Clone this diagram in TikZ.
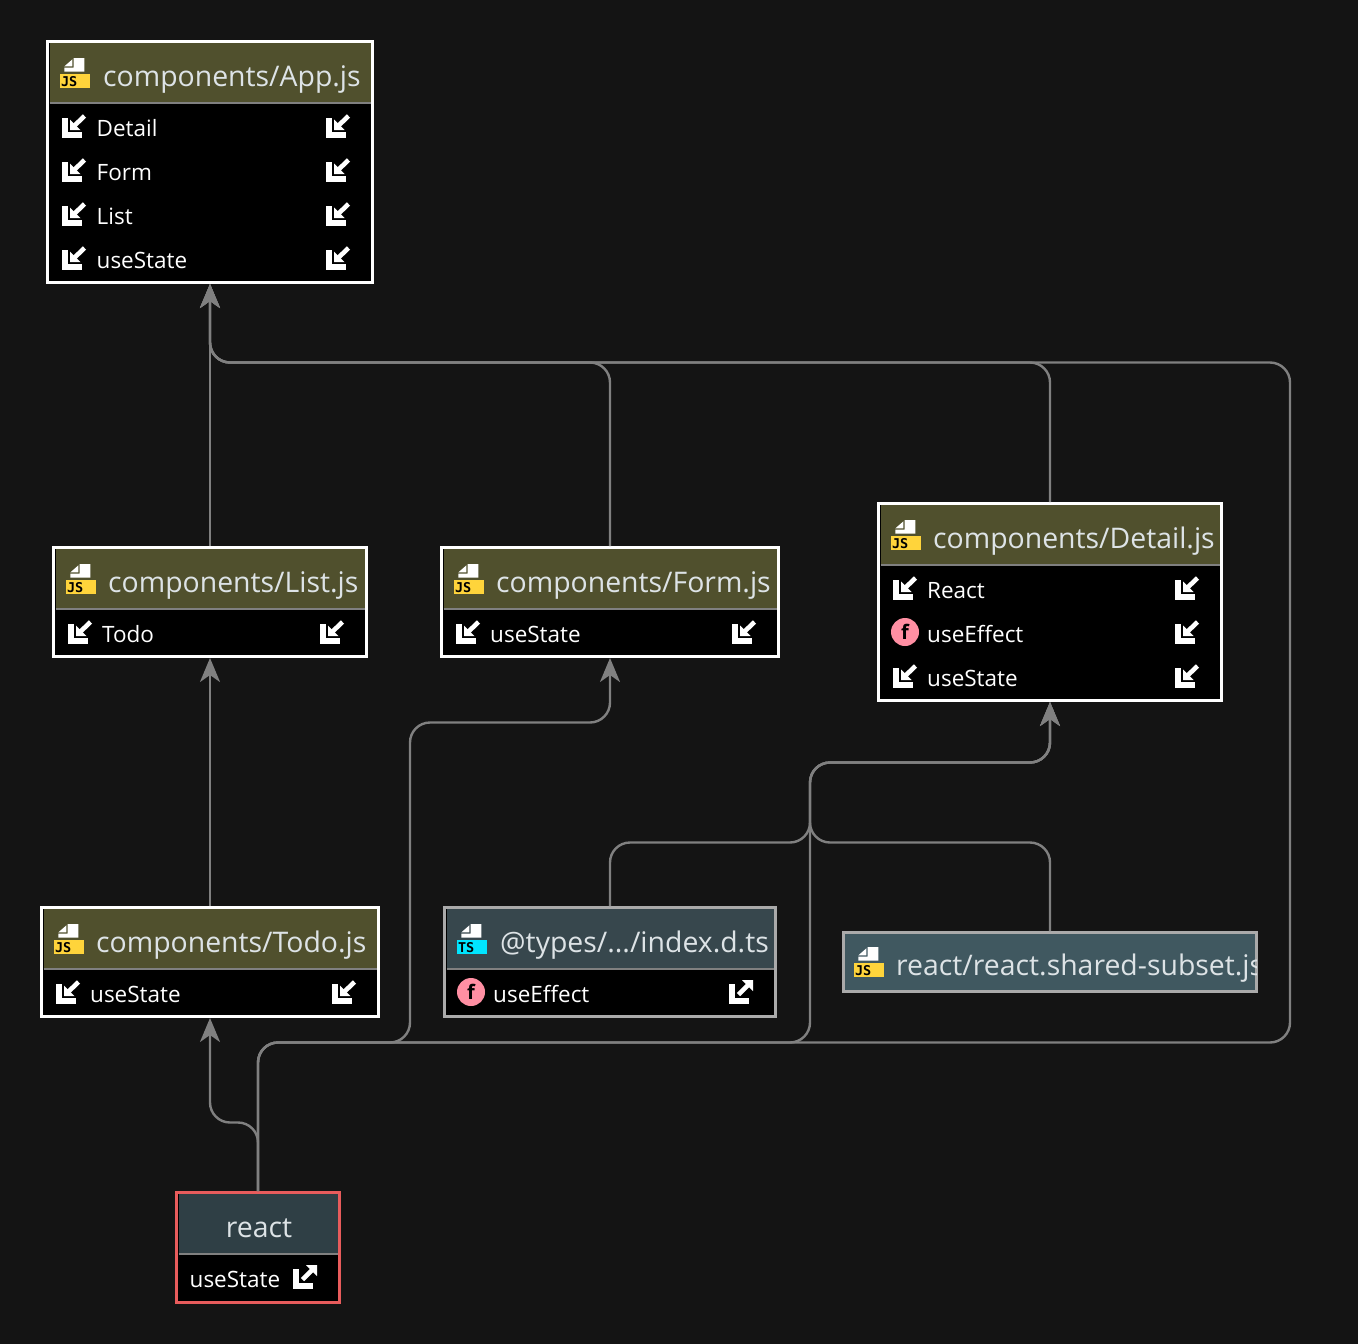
\documentclass[tikz,border=0pt]{standalone}
\usepackage{fontspec}
\usepackage{xcolor}
\usetikzlibrary{arrows.meta}
\setmainfont{Open Sans}
\newfontfamily\tagfont{DejaVu Sans Mono}
\definecolor{pagebg}{HTML}{141414}
\definecolor{jsolive}{HTML}{50502D}
\definecolor{typesteal}{HTML}{37474D}
\definecolor{sharedteal}{HTML}{405860}
\definecolor{reactteal}{HTML}{2F3F45}
\definecolor{edgegray}{HTML}{808080}
\definecolor{softborder}{HTML}{AAAAAA}
\definecolor{reactred}{HTML}{E85C5C}
\definecolor{jsyellow}{HTML}{FFD43B}
\definecolor{tscyan}{HTML}{00E5FF}
\definecolor{fnpink}{HTML}{FF8FA3}
\definecolor{titletext}{HTML}{DDE3E6}
\tikzset{
  modbox/.style={rectangle,fill=black,line width=3pt,inner sep=0pt,outer sep=auto},
  headbox/.style={rectangle,inner sep=0pt,outer sep=0pt,minimum height=60pt},
  headsep/.style={edgegray,line width=2.4pt},
  title/.style={anchor=base west,inner sep=0pt,text=titletext,font=\fontsize{28.4}{30}\selectfont},
  rowtext/.style={anchor=base west,inner sep=0pt,text=white,font=\fontsize{22.5}{26}\selectfont},
  fnmark/.style={circle,fill=fnpink,minimum size=28pt,inner sep=0pt,text=black,font=\fontsize{20}{20}\selectfont\bfseries},
  dep/.style={edgegray,line width=2.4pt,rounded corners=20pt,-{Stealth[length=24pt,width=20pt,inset=7pt]}}
}
% origin: lower left corner of the tag
\newcommand{\srcicon}[5]{
  \begin{scope}[shift={(#1,-#2)}]
    \fill [white] (13.6,30) -- (24.3,30) -- (24.3,16.3) -- (4.3,16.3) -- (4.3,20.3) -- (13.6,20.3) -- cycle;
    \fill [white] (12.3,28.6) -- (12.3,21.6) -- (4.3,21.6) -- cycle;
    \fill [#5] (0,0) rectangle (30,14);
    \node [anchor=base,inner sep=0pt,text=black,font=\tagfont\fontsize{13.5}{14}\selectfont\bfseries] (#3) at (9.2,2) {#4};
  \end{scope}
}
% origin: lower left corner of the L
\newcommand{\importicon}[2]{
  \begin{scope}[shift={(#1,-#2)}]
    \fill [white] (0,0) rectangle (20,6);
    \fill [white] (0,0) rectangle (6,20);
    \fill [white] (8,8) -- (8,18.5) -- (18.5,8) -- cycle;
    \draw [white,line width=4.6pt] (11,11) -- (22.5,22);
  \end{scope}
}
\newcommand{\exporticon}[2]{
  \begin{scope}[shift={(#1,-#2)}]
    \fill [white] (0,0) rectangle (20,6);
    \fill [white] (0,0) rectangle (6,20);
    \fill [white] (24,24) -- (13,24) -- (24,13) -- cycle;
    \draw [white,line width=4.6pt] (21,21) -- (9.5,9.5);
  \end{scope}
}
\begin{document}
\begin{tikzpicture}[x=1pt,y=1pt]
\fill [pagebg] (0,0) rectangle (1358,-1344);
\useasboundingbox (0,0) rectangle (1358,-1344);

% App.js
\node [modbox,draw=white,minimum width=325pt,minimum height=241pt] (app) at (210,-162) {};
\node [headbox,fill=jsolive,minimum width=321pt] (appHead) at (210,-73) {};
\draw [headsep] (appHead.south west) -- (appHead.south east);
\srcicon{60}{88}{appTag}{JS}{jsyellow}
\node [title] (appTitle) at (103,-86) {components/App.js};
\foreach \i/\t/\y in {0/Detail/136,1/Form/180,2/List/224,3/useState/268}{
  \node [rowtext] (appRow\i) at (96.5,-\y) {\t};
}
\foreach \y in {138,182,226,270}{
  \importicon{62}{\y}
  \importicon{326}{\y}
}

% List.js
\node [modbox,draw=white,minimum width=313pt,minimum height=109pt] (list) at (210,-602) {};
\node [headbox,fill=jsolive,minimum width=309pt] (listHead) at (210,-579) {};
\draw [headsep] (listHead.south west) -- (listHead.south east);
\srcicon{66}{594}{listTag}{JS}{jsyellow}
\node [title] (listTitle) at (108,-592) {components/List.js};
\node [rowtext] (listRow) at (102,-642) {Todo};
\importicon{68}{644}
\importicon{320}{644}

% Form.js
\node [modbox,draw=white,minimum width=337pt,minimum height=109pt] (form) at (610,-602) {};
\node [headbox,fill=jsolive,minimum width=333pt] (formHead) at (610,-579) {};
\draw [headsep] (formHead.south west) -- (formHead.south east);
\srcicon{454}{594}{formTag}{JS}{jsyellow}
\node [title] (formTitle) at (496,-592) {components/Form.js};
\node [rowtext] (formRow) at (490,-642) {useState};
\importicon{456}{644}
\importicon{732}{644}

% Detail.js
\node [modbox,draw=white,minimum width=343pt,minimum height=197pt] (detail) at (1050,-602) {};
\node [headbox,fill=jsolive,minimum width=339pt] (detailHead) at (1050,-535) {};
\draw [headsep] (detailHead.south west) -- (detailHead.south east);
\srcicon{891}{550}{detailTag}{JS}{jsyellow}
\node [title] (detailTitle) at (933,-548) {components/Detail.js};
\node [rowtext] (detailRow0) at (927,-598) {React};
\node [rowtext] (detailRow1) at (927,-642) {useEffect};
\node [rowtext] (detailRow2) at (927,-686) {useState};
\importicon{893}{600}
\node [fnmark] (detailFn) at (905,-632) {f};
\importicon{893}{688}
\foreach \y in {600,644,688}{
  \importicon{1175}{\y}
}

% Todo.js
\node [modbox,draw=white,minimum width=337pt,minimum height=109pt] (todo) at (210,-962) {};
\node [headbox,fill=jsolive,minimum width=333pt] (todoHead) at (210,-939) {};
\draw [headsep] (todoHead.south west) -- (todoHead.south east);
\srcicon{54}{954}{todoTag}{JS}{jsyellow}
\node [title] (todoTitle) at (96,-952) {components/Todo.js};
\node [rowtext] (todoRow) at (90,-1002) {useState};
\importicon{56}{1004}
\importicon{332}{1004}

% index.d.ts
\node [modbox,draw=softborder,minimum width=331pt,minimum height=109pt] (types) at (610,-962) {};
\node [headbox,fill=typesteal,minimum width=327pt] (typesHead) at (610,-939) {};
\draw [headsep] (typesHead.south west) -- (typesHead.south east);
\srcicon{457}{954}{typesTag}{TS}{tscyan}
\node [title] (typesTitle) at (500,-952) {@types/.../index.d.ts};
\node [fnmark] (typesFn) at (471,-992) {f};
\node [rowtext] (typesRow) at (493,-1002) {useEffect};
\exporticon{729}{1004}

% react.shared-subset.js
\node [modbox,draw=softborder,fill=sharedteal,minimum width=413pt,minimum height=59pt] (shared) at (1050,-962) {};
\srcicon{854}{977}{sharedTag}{JS}{jsyellow}
\begin{scope}
  \clip (844,-934) rectangle (1256,-991);
  \node [title] (sharedTitle) at (896,-975) {react/react.shared-subset.js};
\end{scope}

% react
\node [modbox,draw=reactred,minimum width=163pt,minimum height=110pt] (react) at (258,-1247.5) {};
\node [headbox,fill=reactteal,minimum width=159pt] (reactHead) at (258,-1224) {};
\draw [headsep] (reactHead.south west) -- (reactHead.south east);
\node [title,anchor=base] (reactTitle) at (259,-1237) {react};
\node [rowtext] (reactRow) at (189.5,-1287) {useState};
\exporticon{293}{1289}

% turning points of the connectors
\coordinate (appBus) at (210,-362.5);
\coordinate (rightLow) at (1290,-1042.5);
\coordinate (formLow) at (410,-1042.5);
\coordinate (formIn) at (610,-722.5);
\coordinate (detailLow) at (810,-1042.5);
\coordinate (detailMerge) at (810,-842.5);
\coordinate (detailIn) at (1050,-762.5);
\coordinate (todoIn) at (210,-1122.5);

\draw [dep] (list.north) -- (app.south);
\draw [dep] (todo.north) -- (list.south);
\draw [dep] (form.north) |- (appBus) -- (app.south);
\draw [dep] (detail.north) |- (appBus) -- (app.south);
\draw [dep] (react.north) |- (rightLow) |- (appBus) -- (app.south);
\draw [dep] (react.north) |- (formLow) |- (formIn) -- (form.south);
\draw [dep] (react.north) |- (detailLow) |- (detailIn) -- (detail.south);
\draw [dep] (types.north) |- (detailMerge) |- (detailIn) -- (detail.south);
\draw [dep] (shared.north) |- (detailMerge) |- (detailIn) -- (detail.south);
\draw [dep] (react.north) |- (todoIn) -- (todo.south);
\end{tikzpicture}
\end{document}
